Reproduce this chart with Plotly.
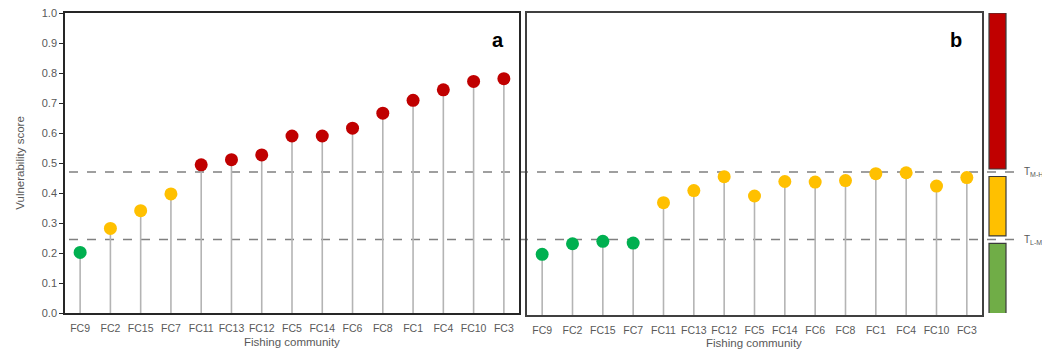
import plotly.graph_objects as go

# ---- data ----
communities_a = ["FC9", "FC2", "FC15", "FC7", "FC11", "FC13", "FC12", "FC5",
                 "FC14", "FC6", "FC8", "FC1", "FC4", "FC10", "FC3"]
scores_a = [0.202, 0.282, 0.341, 0.397, 0.494, 0.511, 0.527, 0.590,
            0.590, 0.616, 0.666, 0.709, 0.744, 0.772, 0.781]
levels_a = ["L", "M", "M", "M", "H", "H", "H", "H", "H", "H", "H", "H", "H", "H", "H"]

communities_b = ["FC9", "FC2", "FC15", "FC7", "FC11", "FC13", "FC12", "FC5",
                 "FC14", "FC6", "FC8", "FC1", "FC4", "FC10", "FC3"]
scores_b = [0.201, 0.236, 0.244, 0.238, 0.372, 0.412, 0.458, 0.394,
            0.442, 0.440, 0.445, 0.468, 0.471, 0.427, 0.455]
levels_b = ["L", "L", "L", "L", "M", "M", "M", "M", "M", "M", "M", "M", "M", "M", "M"]

T_LM = 0.245
T_MH = 0.470
y_ticks = [0.0, 0.1, 0.2, 0.3, 0.4, 0.5, 0.6, 0.7, 0.8, 0.9, 1.0]
band_ranges = {"H": (0.48, 1.0), "M": (0.257, 0.455), "L": (-0.005, 0.232)}
x_title = "Fishing community"
y_title = "Vulnerability score"

# ---- styles ----
PAGE_MARGIN = 8          # default html body margin
W, H = 1050 - 2 * PAGE_MARGIN, 358 - 2 * PAGE_MARGIN
dot_colors = {"L": "#00B050", "M": "#FFC000", "H": "#C00000"}
band_colors = {"H": "#C00000", "M": "#FFC000", "L": "#70AD47"}
stem_color = "#B4B4B4"
font_family = "Liberation Sans"
txt_color = "#595959"

def px(x):
    return (x - PAGE_MARGIN) / W

def py(y):
    return 1 - (y - PAGE_MARGIN) / H

fig = go.Figure()

for cats, vals, levs, xa, ya in [(communities_a, scores_a, levels_a, "x", "y"),
                                 (communities_b, scores_b, levels_b, "x2", "y2")]:
    stem_x, stem_y = [], []
    for c, v in zip(cats, vals):
        stem_x += [c, c, None]
        stem_y += [0, v, None]
    fig.add_trace(go.Scatter(x=stem_x, y=stem_y, mode="lines",
                             line=dict(color=stem_color, width=1.6),
                             xaxis=xa, yaxis=ya, showlegend=False, hoverinfo="skip",
                             connectgaps=False))
    fig.add_trace(go.Scatter(x=cats, y=vals, mode="markers",
                             marker=dict(size=13, color=[dot_colors[l] for l in levs],
                                         line=dict(width=0)),
                             xaxis=xa, yaxis=ya, showlegend=False))

axis_common = dict(showgrid=False, zeroline=False, showline=True, mirror=True,
                   fixedrange=True, automargin=False, ticklabeloverflow="allow")

fig.update_layout(
    width=W, height=H,
    margin=dict(l=0, r=0, t=0, b=0),
    paper_bgcolor="white", plot_bgcolor="white",
    font=dict(family=font_family, size=11, color=txt_color),
    xaxis=dict(domain=[px(65), px(519)], anchor="y", type="category",
               categoryorder="array", categoryarray=communities_a,
               range=[-0.5, len(communities_a) - 0.5],
               linecolor="#262626", linewidth=1.5, ticks="", ticklabelstandoff=5,
               tickfont=dict(size=10.5, color=txt_color),
               **axis_common),
    yaxis=dict(domain=[py(313), py(13)], anchor="x", range=[0, 1.0],
               tickvals=y_ticks, tickformat=".1f", ticks="outside", ticklen=4,
               tickcolor="#262626", linecolor="#262626", linewidth=1.5,
               tickfont=dict(size=11, color=txt_color),
               title=dict(text=y_title, font=dict(size=11.5, color=txt_color)),
               **axis_common),
    xaxis2=dict(domain=[px(527), px(982)], anchor="y2", type="category",
                categoryorder="array", categoryarray=communities_b,
                range=[-0.5, len(communities_b) - 0.5],
                linecolor="#404040", linewidth=1.5, ticks="", ticklabelstandoff=5,
                tickfont=dict(size=10.5, color=txt_color),
                **axis_common),
    yaxis2=dict(domain=[py(315), py(13)], anchor="x2", range=[0, 1.0],
                showticklabels=False, ticks="", linecolor="#404040", linewidth=1.5,
                **axis_common),
)

# x-axis titles
fig.add_annotation(xref="paper", yref="paper", x=px(292), y=py(342), text=x_title,
                   showarrow=False, xanchor="center", yanchor="middle",
                   font=dict(size=11.5, color=txt_color))
fig.add_annotation(xref="paper", yref="paper", x=px(754), y=py(343), text=x_title,
                   showarrow=False, xanchor="center", yanchor="middle",
                   font=dict(size=11.5, color=txt_color))

# threshold dashed lines spanning both panels
for t in [T_MH, T_LM]:
    fig.add_shape(type="line", xref="paper", yref="y", x0=px(69), x1=px(1016),
                  y0=t, y1=t, line=dict(color="#808080", width=1.3, dash="dash"),
                  layer="below")

# colour band legend on the right
for lev in ["H", "M", "L"]:
    y0, y1 = band_ranges[lev]
    fig.add_shape(type="rect", xref="paper", yref="y", x0=px(989), x1=px(1006),
                  y0=y0, y1=y1, fillcolor=band_colors[lev],
                  line=dict(color="#3A3A3A", width=1.2), layer="above")

fig.add_annotation(xref="paper", yref="y", x=px(1022), y=T_MH, xanchor="left",
                   yanchor="middle", text="T<sub>M-H</sub>", showarrow=False,
                   font=dict(size=10, color=txt_color))
fig.add_annotation(xref="paper", yref="y", x=px(1022), y=T_LM, xanchor="left",
                   yanchor="middle", text="T<sub>L-M</sub>", showarrow=False,
                   font=dict(size=10, color=txt_color))

# panel letters
fig.add_annotation(xref="paper", yref="paper", x=px(506), y=py(40), text="<b>a</b>",
                   showarrow=False, xanchor="right", yanchor="middle",
                   font=dict(size=20, color="black", family="Liberation Sans"))
fig.add_annotation(xref="paper", yref="paper", x=px(964), y=py(40), text="<b>b</b>",
                   showarrow=False, xanchor="right", yanchor="middle",
                   font=dict(size=20, color="black", family="Liberation Sans"))

fig.write_html("out.html")
